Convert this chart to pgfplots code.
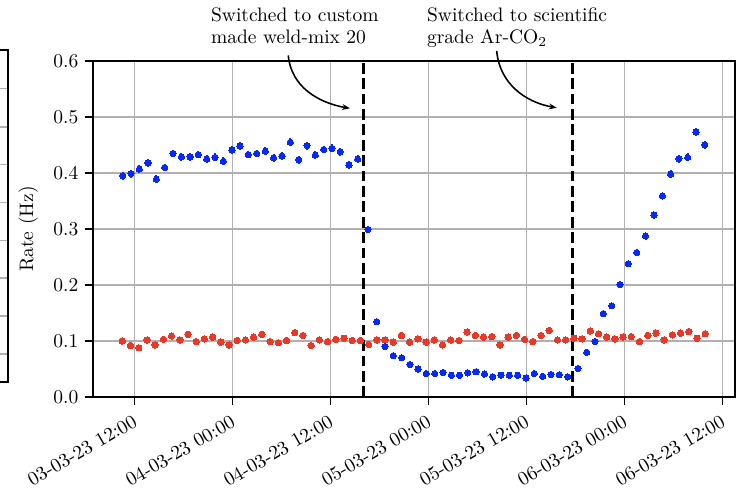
\documentclass[border=0pt]{standalone}
\usepackage{pgfplots}
\pgfplotsset{compat=1.18}
\usepackage{pgfplotstable}
\usetikzlibrary{arrows.meta}
\definecolor{cblue}{RGB}{8,40,250}
\definecolor{cred}{RGB}{234,56,40}
\definecolor{gridgray}{RGB}{176,176,176}

\pgfplotstableread{
x y e
10.57 0.395 0.007
11.59 0.399 0.007
12.61 0.407 0.007
13.67 0.418 0.007
14.69 0.389 0.007
15.71 0.410 0.007
16.73 0.435 0.007
17.76 0.429 0.007
18.82 0.429 0.007
19.84 0.433 0.007
20.86 0.425 0.007
21.88 0.428 0.007
22.90 0.421 0.007
23.96 0.441 0.007
24.94 0.448 0.007
25.96 0.433 0.007
26.98 0.435 0.007
28.04 0.439 0.007
29.06 0.427 0.007
30.08 0.430 0.007
31.10 0.455 0.007
32.12 0.424 0.007
33.14 0.449 0.007
34.16 0.432 0.007
35.18 0.442 0.007
36.20 0.444 0.007
37.22 0.438 0.007
38.29 0.414 0.007
39.35 0.425 0.007
40.61 0.299 0.006
41.67 0.1345 0.004
42.69 0.090 0.003
43.71 0.074 0.003
44.74 0.070 0.003
45.76 0.058 0.002
46.74 0.050 0.002
47.76 0.042 0.002
48.78 0.042 0.002
49.80 0.044 0.002
50.82 0.039 0.002
51.80 0.039 0.002
52.82 0.043 0.002
53.84 0.045 0.002
54.86 0.041 0.002
55.88 0.036 0.002
56.90 0.039 0.002
57.92 0.039 0.002
58.94 0.039 0.002
59.96 0.034 0.002
60.98 0.042 0.002
62.00 0.037 0.002
63.02 0.040 0.002
64.04 0.040 0.002
65.06 0.036 0.002
66.33 0.051 0.002
67.39 0.080 0.003
68.41 0.099 0.003
69.43 0.149 0.004
70.45 0.163 0.004
71.47 0.201 0.005
72.49 0.238 0.005
73.51 0.258 0.005
74.61 0.2875 0.006
75.63 0.325 0.006
76.65 0.359 0.006
77.67 0.398 0.007
78.69 0.4256 0.007
79.76 0.428 0.007
80.78 0.473 0.007
81.84 0.4506 0.007
}\bluedata

\pgfplotstableread{
x y
10.53 0.100
11.54 0.092
12.54 0.088
13.55 0.102
14.55 0.093
15.56 0.103
16.56 0.109
17.57 0.102
18.57 0.112
19.58 0.099
20.58 0.104
21.59 0.107
22.59 0.098
23.60 0.093
24.60 0.101
25.61 0.102
26.61 0.107
27.62 0.112
28.63 0.099
29.63 0.097
30.64 0.101
31.64 0.115
32.65 0.110
33.65 0.092
34.66 0.102
35.66 0.099
36.67 0.103
37.67 0.105
38.68 0.101
39.68 0.101
40.69 0.094
41.69 0.102
42.70 0.102
43.70 0.098
44.71 0.110
45.71 0.098
46.72 0.104
47.73 0.098
48.73 0.102
49.74 0.093
50.74 0.102
51.75 0.101
52.75 0.116
53.76 0.110
54.76 0.107
55.77 0.108
56.77 0.093
57.78 0.107
58.78 0.110
59.79 0.103
60.79 0.099
61.80 0.110
62.80 0.119
63.81 0.102
64.81 0.102
65.82 0.105
66.83 0.104
67.83 0.118
68.84 0.113
69.84 0.107
70.85 0.104
71.85 0.107
72.86 0.108
73.86 0.099
74.87 0.110
75.87 0.114
76.88 0.102
77.88 0.111
78.89 0.114
79.89 0.117
80.90 0.105
81.91 0.113
}\reddata

\begin{document}
\begin{tikzpicture}
\path[use as bounding box] (-47.7pt,-47.4pt) rectangle (333.3pt,203.6pt);
% partial neighbouring panel at the left edge
\foreach \yy in {158.3,138.6,119.3,99.8,80.2,60.9,41.5,22.1}{
  \draw[gridgray, line width=0.8pt] (-50pt,\yy pt) -- (-43.6pt,\yy pt);
}
\draw[black, line width=0.8pt] (-50pt,177.9pt) -- (-43.6pt,177.9pt) -- (-43.6pt,7.7pt) -- (-50pt,7.7pt);

\begin{axis}[
  at={(0,0)}, anchor=south west,
  scale only axis, width=329.2pt, height=172.3pt,
  xmin=6.94, xmax=85.55, ymin=0, ymax=0.6,
  clip=false,
  axis line style={black, line width=0.8pt},
  tick align=outside, tick pos=left,
  major tick length=4pt,
  every tick/.style={black, line width=0.8pt},
  grid=major,
  major grid style={gridgray, line width=0.8pt},
  xtick={12,24,36,48,60,72,84},
  xticklabels={03-03-23 12:00,04-03-23 00:00,04-03-23 12:00,05-03-23 00:00,05-03-23 12:00,06-03-23 00:00,06-03-23 12:00},
  xticklabel style={rotate=30, anchor=north east, font=\fontsize{10}{12}\selectfont},
  ytick={0,0.1,0.2,0.3,0.4,0.5,0.6},
  yticklabel style={/pgf/number format/.cd, fixed, fixed zerofill, precision=1},
  ylabel={Rate (Hz)},
  every axis y label/.style={at={(axis description cs:-0.101,0.5)}, rotate=90, anchor=center, font=\fontsize{10}{12}\selectfont},
]
\addplot[only marks, mark=*, mark size=1.65pt, color=cred, mark options={fill=cred, draw=cred, line width=0pt}] table[x=x, y=y] {\reddata};
\addplot[only marks, mark=*, mark size=1.6pt, color=cblue, mark options={fill=cblue, draw=cblue, line width=0pt},
  error bars/.cd, y dir=both, y explicit, error mark=none, error bar style={line width=1.1pt, color=cblue}]
  table[x=x, y=y, y error=e] {\bluedata};
\addplot[black, line width=1.5pt, dash pattern=on 5.5pt off 2.4pt] coordinates {(40.1,0) (40.1,0.6)};
\addplot[black, line width=1.5pt, dash pattern=on 5.5pt off 2.4pt] coordinates {(65.7,0) (65.7,0.6)};

\node[anchor=north west, align=left, inner sep=0pt, font=\fontsize{10}{11.3}\selectfont] at (axis cs:21.35,0.696) {Switched to custom\\made weld-mix 20};
\node[anchor=north west, align=left, inner sep=0pt, font=\fontsize{10}{11.3}\selectfont] at (axis cs:47.8,0.696) {Switched to scientific\\grade Ar-CO$_2$};
\draw[-{Stealth[length=4pt,width=3pt]}, line width=0.8pt] (axis cs:30.85,0.61) to[out=-85,in=170] (axis cs:38.4,0.5155);
\draw[-{Stealth[length=4pt,width=3pt]}, line width=0.8pt] (axis cs:56.37,0.618) to[out=-85,in=170] (axis cs:63.72,0.5166);
\end{axis}
\end{tikzpicture}
\end{document}
